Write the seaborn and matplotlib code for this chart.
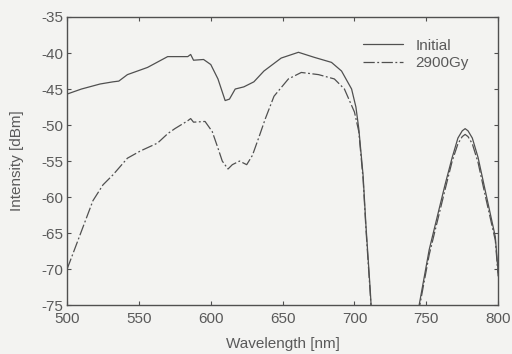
import pandas as pd
import matplotlib
matplotlib.use("Agg")
import matplotlib.pyplot as plt
import seaborn as sns

# spectra (points below -75 dBm are clipped by the axes)
wl_initial = [500, 510, 523, 532, 536, 542, 556, 570, 584, 586, 588, 595, 600, 605,
              610, 613, 617, 623, 630, 637, 649, 661, 672, 684, 691, 698, 701, 703,
              706, 708, 711, 713, 743, 745, 752, 763, 768, 772, 775, 777, 779, 782,
              786, 791, 798, 800]
dbm_initial = [-45.7, -45.0, -44.3, -44.0, -43.9, -43.0, -42.0, -40.5, -40.5, -40.2,
               -41.0, -40.9, -41.6, -43.6, -46.6, -46.4, -45.0, -44.7, -44.0, -42.5,
               -40.7, -39.9, -40.6, -41.3, -42.5, -45.0, -47.5, -50.5, -57.0, -64.0,
               -73.0, -80.0, -80.0, -75.0, -67.3, -58.3, -54.5, -51.8, -50.8, -50.5,
               -50.8, -51.8, -54.5, -59.1, -65.5, -70.5]

wl_2900 = [500, 504, 511, 518, 525, 532, 542, 551, 563, 570, 575, 584, 586, 588, 596,
           601, 605, 608, 612, 615, 620, 625, 629, 634, 638, 644, 654, 663, 675, 686,
           693, 700, 703, 706, 708, 711, 713, 743, 745, 752, 763, 768, 772, 775, 777,
           779, 782, 786, 791, 798, 800]
dbm_2900 = [-70.0, -67.9, -64.2, -60.5, -58.3, -56.9, -54.6, -53.6, -52.5, -51.2,
            -50.5, -49.4, -49.1, -49.6, -49.5, -50.9, -53.2, -55.0, -56.1, -55.5,
            -55.0, -55.5, -54.2, -51.4, -49.1, -46.0, -43.6, -42.7, -43.0, -43.6,
            -45.0, -48.2, -50.9, -57.5, -64.5, -73.5, -80.0, -80.0, -75.5, -68.0,
            -59.0, -55.0, -52.6, -51.6, -51.3, -51.6, -52.6, -55.2, -59.8, -66.0,
            -71.0]

series_names = ["Initial", "2900Gy"]
x_ticks = [500, 550, 600, 650, 700, 750, 800]
y_ticks = [-35, -40, -45, -50, -55, -60, -65, -70, -75]

df = pd.concat([
    pd.DataFrame({"wl": wl_initial, "dbm": dbm_initial, "series": series_names[0]}),
    pd.DataFrame({"wl": wl_2900, "dbm": dbm_2900, "series": series_names[1]}),
])

sns.set_style("ticks")
plt.rcParams["font.family"] = ["Liberation Sans", "DejaVu Sans"]
ink = "#505050"
text_ink = "#5a5a5a"
paper = "#f3f3f1"

fig = plt.figure(figsize=(5.12, 3.54), dpi=100, facecolor=paper)
ax = fig.add_axes([0.131, 0.138, 0.842, 0.814], facecolor=paper)

sns.lineplot(data=df, x="wl", y="dbm", hue="series", style="series",
             palette=[ink, ink], dashes=[(None, None), (9, 2, 1.5, 2)],
             linewidth=0.9, sort=False, estimator=None, ax=ax)

ax.set_xlim(500, 800)
ax.set_ylim(-75, -35)
ax.set_xticks(x_ticks)
ax.set_yticks(y_ticks)
ax.set_yticklabels([str(v) for v in y_ticks])
ax.tick_params(direction="in", length=3, width=0.8, colors=ink, labelsize=11,
               top=True, right=True, labelcolor=text_ink)
ax.tick_params(axis="x", pad=5)
ax.tick_params(axis="y", pad=3)
for s in ax.spines.values():
    s.set_color(ink)
    s.set_linewidth(1.0)

ax.set_xlabel("Wavelength [nm]", color=text_ink, fontsize=11, labelpad=8)
ax.set_ylabel("Intensity [dBm]", color=text_ink, fontsize=11, labelpad=12)

leg = ax.legend(loc="upper left", frameon=False, fontsize=11,
                handlelength=2.6, handletextpad=0.8, labelspacing=0.25,
                borderpad=0, borderaxespad=0, bbox_to_anchor=(0.687, 0.925))
for t in leg.get_texts():
    t.set_color(text_ink)

fig.savefig("out.png", dpi=100, facecolor=paper)
